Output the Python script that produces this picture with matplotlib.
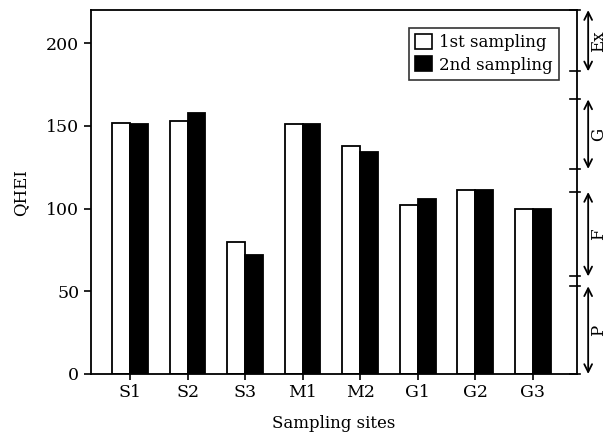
import numpy as np
import matplotlib
matplotlib.use("Agg")
import matplotlib.pyplot as plt

plt.rcParams['font.family'] = ['DejaVu Serif']

# data
sites = ['S1', 'S2', 'S3', 'M1', 'M2', 'G1', 'G2', 'G3']
first = [152, 153, 80, 151, 138, 102, 111, 100]
second = [151, 158, 72, 151, 134, 106, 111, 100]

# habitat classes on the right (lower, upper, label)
class_lo = [0, 59, 124, 183]
class_hi = [53, 110, 166, 220]
class_names = ['P', 'F', 'G', 'Ex']

fig = plt.figure(figsize=(6.08, 4.41), dpi=100)
ax = fig.add_axes([0.1497, 0.152, 0.7993, 0.825])

x = np.arange(len(sites))
w = 0.31
ax.bar(x - w/2, first, w, color='white', edgecolor='black', linewidth=1.3, label='1st sampling')
ax.bar(x + w/2, second, w, color='black', edgecolor='black', linewidth=1.3, label='2nd sampling')

ax.set_xlim(-0.68, 7.77)
ax.set_ylim(0, 220)
ax.set_yticks([0, 50, 100, 150, 200])
ax.set_xticks(x)
ax.set_xticklabels(sites)
ax.tick_params(axis='both', labelsize=12.5, width=1.2, length=5)
ax.tick_params(axis='x', length=4)
for s in ax.spines.values():
    s.set_linewidth(1.3)

ax.set_ylabel('QHEI', fontsize=12, labelpad=12)
ax.set_xlabel('Sampling sites', fontsize=12, labelpad=10)

leg = ax.legend(loc='upper right', fontsize=12, frameon=True, fancybox=False,
                edgecolor='black', handlelength=1.0, handleheight=1.0,
                handletextpad=0.4, borderpad=0.4, labelspacing=0.3,
                bbox_to_anchor=(0.98, 0.975))
leg.get_frame().set_linewidth(1.2)
for p in leg.get_patches():
    p.set_linewidth(1.2)

# class arrows on the right
for lo, hi, nm in zip(class_lo, class_hi, class_names):
    ax.annotate('', xy=(1.023, lo), xytext=(1.023, hi),
                xycoords=('axes fraction', 'data'), textcoords=('axes fraction', 'data'),
                arrowprops=dict(arrowstyle='<->', lw=1.3, color='black',
                                shrinkA=0, shrinkB=0, mutation_scale=14),
                annotation_clip=False)
    for yv in (lo, hi):
        ax.plot([0.985, 1.006], [yv, yv], color='black', lw=1.2,
                transform=ax.get_yaxis_transform(), clip_on=False)
    ax.text(1.044, (lo + hi) / 2, nm, rotation=90, fontsize=12,
            ha='center', va='center', transform=ax.get_yaxis_transform())

fig.savefig('out.png', dpi=100)
